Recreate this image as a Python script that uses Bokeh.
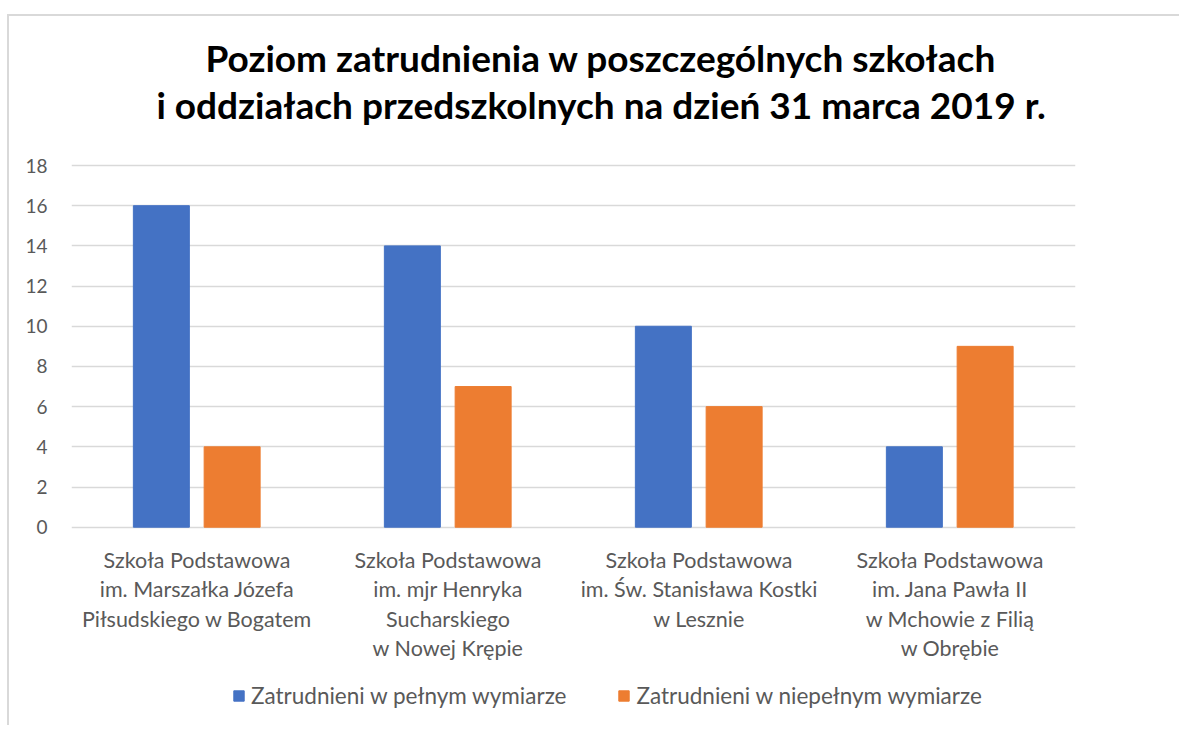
from bokeh.plotting import figure
from bokeh.models import (FactorRange, Range1d, Legend, LegendItem, Label,
                          LabelSet, FixedTicker, ColumnDataSource)
from bokeh.core.properties import value
from bokeh.transform import dodge
from bokeh.embed import file_html
from bokeh.resources import INLINE

# ---- data ----
title_lines = ["Poziom zatrudnienia w poszczególnych szkołach",
               "i oddziałach przedszkolnych na dzień 31 marca 2019 r."]
categories = [
    "Szkoła Podstawowa\nim. Marszałka Józefa\nPiłsudskiego w Bogatem",
    "Szkoła Podstawowa\nim. mjr Henryka\nSucharskiego\nw Nowej Krępie",
    "Szkoła Podstawowa\nim. Św. Stanisława Kostki\nw Lesznie",
    "Szkoła Podstawowa\nim. Jana Pawła II\nw Mchowie z Filią\nw Obrębie",
]
series_names = ["Zatrudnieni w pełnym wymiarze", "Zatrudnieni w niepełnym wymiarze"]
full_time = [16, 14, 10, 4]
part_time = [4, 7, 6, 9]
y_ticks = [0, 2, 4, 6, 8, 10, 12, 14, 16, 18]

BLUE = "#4472C4"
ORANGE = "#ED7D31"
FONT = "Lato"
GREY_TXT = "#595959"

# ---- layout constants (pixels) ----
W, H = 1172, 711          # canvas size
ORIGIN_Y = 16             # page y of canvas top (margin + border)
ZERO_Y, TOP_Y = 526.7, 165.0   # page y of value 0 and value 18
ppu = (ZERO_Y - TOP_Y) / 18.0
y_hi = (ZERO_Y - ORIGIN_Y) / ppu
y_lo = -(ORIGIN_Y + H - ZERO_Y) / ppu
LINE_GAP = 29.5

source = ColumnDataSource(dict(cat=categories, full=full_time, part=part_time))

# one row per label line so every line is centred on its category
lab_cat, lab_text, lab_off = [], [], []
for c in categories:
    for i, ln in enumerate(c.split("\n")):
        lab_cat.append(c)
        lab_text.append(ln)
        lab_off.append(-40.3 - LINE_GAP * i)
lab_source = ColumnDataSource(dict(cat=lab_cat, text=lab_text, off=lab_off))

p = figure(x_range=FactorRange(*categories), y_range=Range1d(y_lo, y_hi),
           width=W, height=H, output_backend="svg", toolbar_location=None,
           min_border_left=62, min_border_right=106, min_border_top=0,
           min_border_bottom=0)
p.styles = {"border-top": "2px solid #d9d9d9", "border-left": "2px solid #d9d9d9",
            "margin-top": "14px", "margin-left": "7px"}
p.outline_line_color = None
p.background_fill_color = "white"
p.border_fill_color = "white"

r1 = p.vbar(x=dodge("cat", -0.142, range=p.x_range), top="full", width=0.223,
            source=source, fill_color=BLUE, line_color=BLUE)
r2 = p.vbar(x=dodge("cat", 0.140, range=p.x_range), top="part", width=0.223,
            source=source, fill_color=ORANGE, line_color=ORANGE)

# title (two lines)
for line, off in zip(title_lines, [108, 61]):
    p.add_layout(Label(x=2.11, y=18, y_offset=off, text=line, text_align="center",
                       text_baseline="alphabetic", text_font=FONT,
                       text_font_size="37px", text_font_style="bold",
                       text_color="black"))

# y axis
p.yaxis.ticker = FixedTicker(ticks=y_ticks)
p.yaxis.axis_line_color = None
p.yaxis.major_tick_line_color = None
p.yaxis.minor_tick_line_color = None
p.yaxis.major_label_standoff = 18
p.yaxis.major_label_text_font = FONT
p.yaxis.major_label_text_font_size = "19px"
p.yaxis.major_label_text_color = GREY_TXT

# x axis: category names drawn as a label set (one row per line)
p.xaxis.visible = False
cat_labels = LabelSet(x="cat", y=0, y_offset="off", text="text", source=lab_source,
                      text_align="center", text_baseline="alphabetic",
                      text_font=value(FONT), text_font_size=value("21.5px"),
                      text_color=GREY_TXT)
p.add_layout(cat_labels)

# grid
p.xgrid.grid_line_color = None
p.ygrid.ticker = FixedTicker(ticks=y_ticks)
p.ygrid.grid_line_color = "#d9d9d9"
p.ygrid.grid_line_width = 1.5

legend = Legend(items=[LegendItem(label=series_names[0], renderers=[r1]),
                       LegendItem(label=series_names[1], renderers=[r2])],
                orientation="horizontal", location=(161, 18),
                label_text_font=FONT, label_text_font_size="22.5px",
                label_text_color=GREY_TXT, glyph_width=13, glyph_height=13,
                label_standoff=6, spacing=51, padding=0, margin=0,
                border_line_color=None, background_fill_alpha=0)
p.add_layout(legend)

open("out.html", "w").write(file_html(p, INLINE))
